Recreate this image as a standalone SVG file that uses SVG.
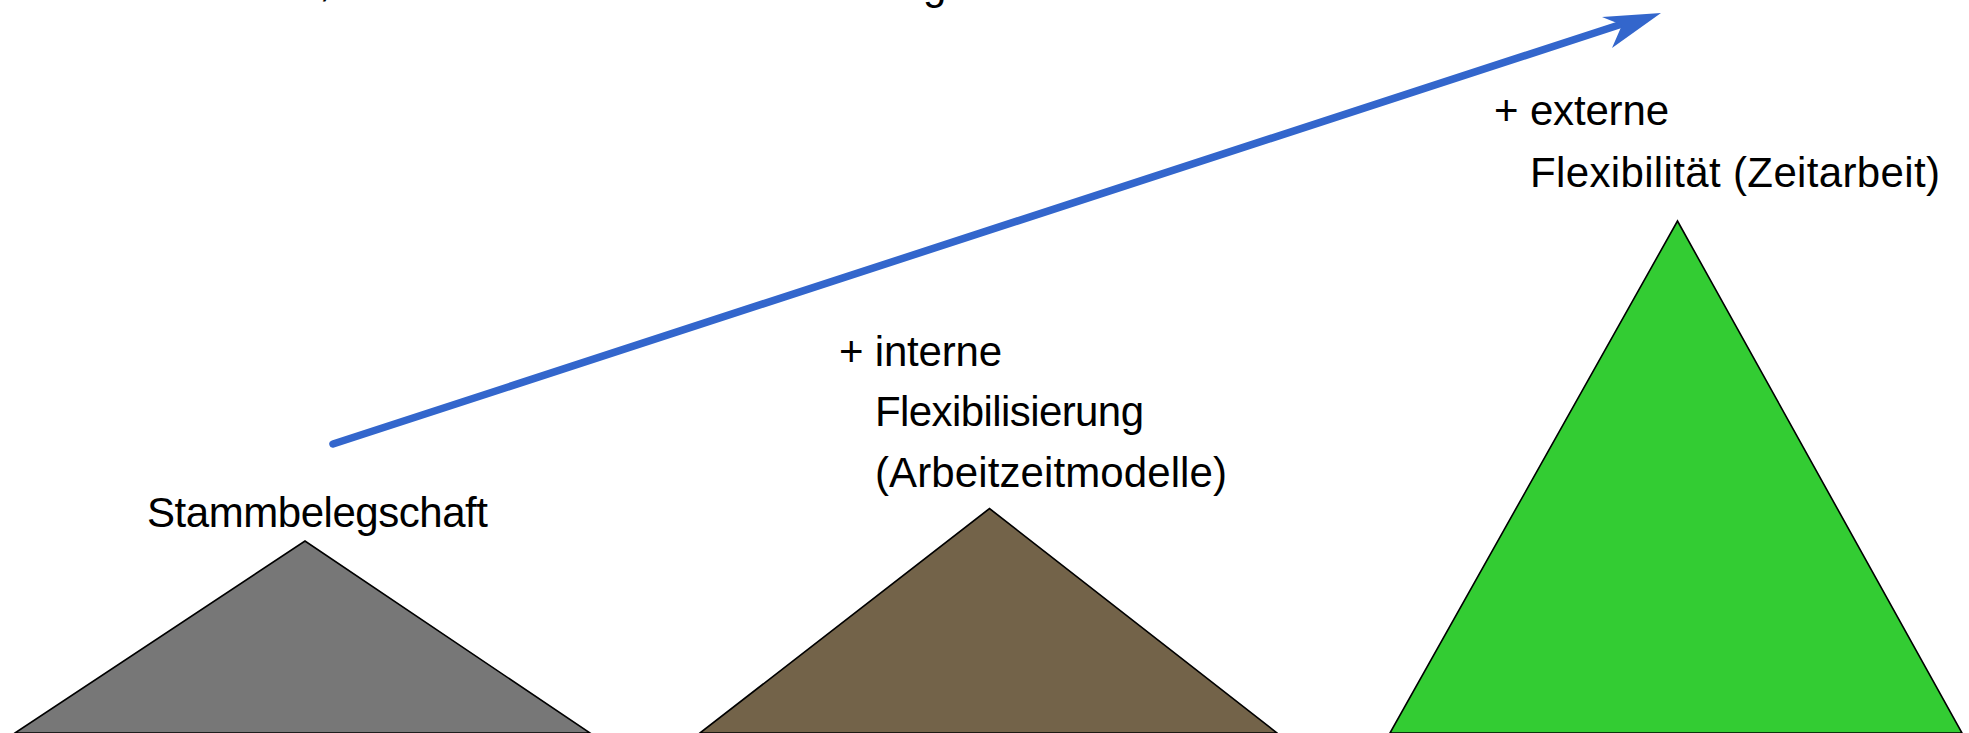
<svg xmlns="http://www.w3.org/2000/svg" width="1969" height="733" viewBox="0 0 1969 733">
  <style>
    .lbl { font-family: "Liberation Sans", Arial, sans-serif; font-size: 42px; fill: #000000; }
    .tri { stroke: #000000; stroke-width: 1.6; stroke-linejoin: miter; }
    .flow { stroke: #3366CC; stroke-width: 7.5; stroke-linecap: round; fill: none; }
  </style>
  <rect x="0" y="0" width="1969" height="733" fill="#FFFFFF"/>

  <g id="title-fragment">
    <text class="lbl" x="319" y="-4">,</text>
    <text class="lbl" x="923" y="-1">g</text>
  </g>

  <g id="connectors">
    <line class="flow" x1="333" y1="444" x2="1622" y2="24"/>
    <polygon points="1661,13 1602,17 1622,25 1612,48" fill="#3366CC"/>
  </g>

  <g id="node-stamm">
    <polygon class="tri" points="15,733 305,541 590,733" fill="#777777"/>
    <text class="lbl" x="147" y="527" textLength="341" lengthAdjust="spacing">Stammbelegschaft</text>
  </g>

  <g id="node-intern">
    <polygon class="tri" points="700,733 989.5,508.5 1277,733" fill="#736349"/>
    <text class="lbl" x="839" y="366" textLength="163" lengthAdjust="spacing">+ interne</text>
    <text class="lbl" x="875" y="426" textLength="269" lengthAdjust="spacing">Flexibilisierung</text>
    <text class="lbl" x="875" y="487" textLength="352" lengthAdjust="spacing">(Arbeitzeitmodelle)</text>
  </g>

  <g id="node-extern">
    <polygon class="tri" points="1390,733 1677.5,221 1962,733" fill="#33CC33"/>
    <text class="lbl" x="1494" y="125" textLength="175" lengthAdjust="spacing">+ externe</text>
    <text class="lbl" x="1530" y="187" textLength="410" lengthAdjust="spacing">Flexibilität (Zeitarbeit)</text>
  </g>
</svg>
